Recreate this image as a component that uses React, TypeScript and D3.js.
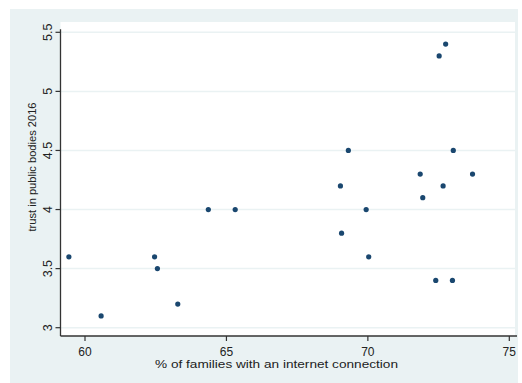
import * as d3 from 'd3';

const internetPct = [
  59.43, 60.57, 62.46, 62.56, 63.28, 64.36, 65.31, 69.03, 69.31, 69.07, 69.94,
  70.03, 71.85, 71.94, 72.4, 72.52, 72.75, 72.66, 73.02, 72.99, 73.7,
];
const trust2016 = [
  3.6, 3.1, 3.6, 3.5, 3.2, 4.0, 4.0, 4.2, 4.5, 3.8, 4.0,
  3.6, 4.3, 4.1, 3.4, 5.3, 5.4, 4.2, 4.5, 3.4, 4.3,
];
const xTicks = [60, 65, 70, 75];
const yTicks = [3, 3.5, 4, 4.5, 5, 5.5];

const W = 522;
const H = 383;
const bg = '#eaf2f3';
const font = 'Liberation Sans, Arial, sans-serif';

export default function App() {
  const x = d3.scaleLinear().domain([60, 75]).range([85, 509.3]);
  const y = d3.scaleLinear().domain([3, 5.5]).range([327.7, 32.3]);

  const plot = { left: 60.5, right: 515, top: 22, bottom: 336 };

  return (
    <svg
      width={W}
      height={H}
      style={{ position: 'absolute', left: 0, top: 0, background: '#fff' }}
    >
      <rect x={10} y={9} width={508} height={H - 9} fill={bg} />
      <rect
        x={plot.left}
        y={plot.top}
        width={plot.right - plot.left}
        height={plot.bottom - plot.top}
        fill="#fff"
      />
      {yTicks.map((t) => (
        <line
          key={'g' + t}
          x1={plot.left}
          x2={plot.right}
          y1={y(t)}
          y2={y(t)}
          stroke={bg}
          strokeWidth={1.5}
        />
      ))}
      {/* axes */}
      <line x1={plot.left} x2={plot.left} y1={y(5.5) - 3} y2={plot.bottom} stroke="#333" strokeWidth={1.3} />
      <line x1={plot.left} x2={517} y1={plot.bottom} y2={plot.bottom} stroke="#333" strokeWidth={1.3} />
      {yTicks.map((t) => (
        <g key={'y' + t}>
          <line x1={plot.left - 5} x2={plot.left} y1={y(t)} y2={y(t)} stroke="#333" strokeWidth={1.2} />
          <text
            transform={`translate(52,${y(t)}) rotate(-90)`}
            textAnchor="middle"
            fontFamily={font}
            fontSize={12.5}
            fill="#222"
          >
            {String(t)}
          </text>
        </g>
      ))}
      {xTicks.map((t) => (
        <g key={'x' + t}>
          <line x1={x(t)} x2={x(t)} y1={plot.bottom} y2={plot.bottom + 5} stroke="#333" strokeWidth={1.2} />
          <text
            x={x(t)}
            y={355.5}
            textAnchor="middle"
            fontFamily={font}
            fontSize={12}
            fill="#222"
          >
            {t}
          </text>
        </g>
      ))}
      <text
        transform={`translate(36,167) rotate(-90)`}
        textAnchor="middle"
        fontFamily={font}
        fontSize={11.5}
        textLength={129}
        lengthAdjust="spacingAndGlyphs"
        fill="#222"
      >
        trust in public bodies 2016
      </text>
      <text
        x={276.5}
        y={368}
        textAnchor="middle"
        fontFamily={font}
        fontSize={11}
        textLength={243}
        lengthAdjust="spacingAndGlyphs"
        fill="#222"
      >
        % of families with an internet connection
      </text>
      {internetPct.map((v, i) => (
        <circle key={'p' + i} cx={x(v)} cy={y(trust2016[i])} r={2.6} fill="#1a476f" />
      ))}
    </svg>
  );
}
